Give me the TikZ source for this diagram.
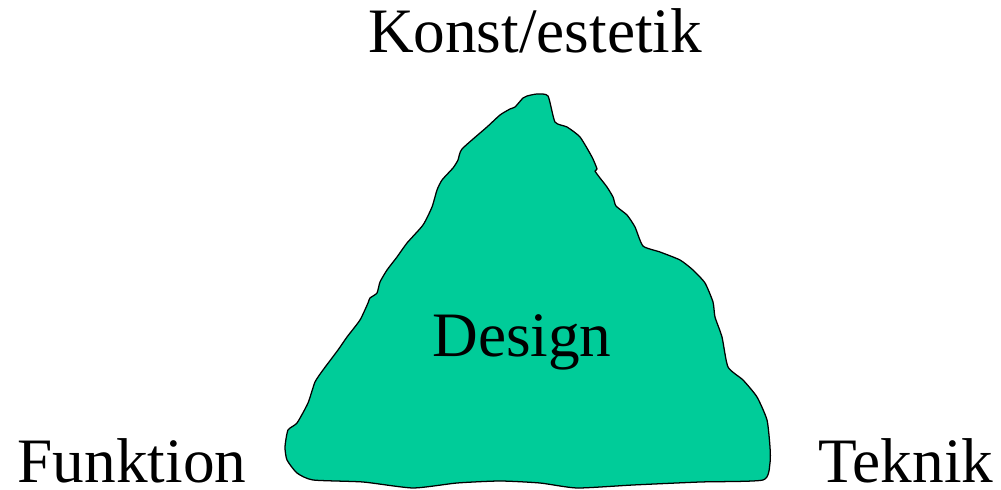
\documentclass[tikz,border=0pt]{standalone}
\usepackage{fontspec}
\setmainfont{Liberation Serif}
\usepackage{tikz}
\usetikzlibrary{positioning}
\definecolor{dsGreen}{RGB}{0,204,153}
\definecolor{dsLine}{RGB}{0,0,0}
\tikzset{
    base/.style={font=\fontsize{45}{54}\selectfont, align=center, inner sep=0pt},
    corner/.style={base, anchor=base, text=black},
    blob/.style={fill=dsGreen, draw=dsLine, line width=0.9pt, line join=round}
}

\begin{document}
\begin{tikzpicture}[x=0.025cm, y=-0.025cm]
  \useasboundingbox (0,0) rectangle (1001,490);

  % the rough mountain
  \draw[blob] plot[smooth cycle, tension=0.35] coordinates {
    (537,94) (548,96) (555,122) (567,127) (580,137) (592,157) (597,169)
    (595,171) (600,178) (607,187) (613,197) (616,206) (627,215) (635,227)
    (643,246) (660,252) (680,260) (693,270) (705,283) (713,302) (715,317)
    (722,337) (728,367) (743,380) (757,397) (767,420) (770,447) (770,463)
    (763,480) (700,482) (633,485) (577,488) (540,483) (500,481) (457,483)
    (413,488) (363,482) (313,480) (297,473) (287,460) (285,447) (288,430)
    (297,423) (308,403) (315,382) (323,370) (338,350) (347,337) (360,320)
    (368,303) (370,298) (377,293) (380,282) (387,270) (397,257) (407,243)
    (423,225) (432,207) (437,190) (442,180) (453,168) (458,160) (462,149)
    (487,127) (500,115) (510,109) (515,107) (523,98) (527,96)
  };

  % labels
  \node[corner] (design) at (522,357) {Design};
  \node[corner] (konst) at (535,53) {Konst/estetik};
  \node[corner] (funktion) at (132,483) {Funktion};
  \node[corner] (teknik) at (906,483) {Teknik};
\end{tikzpicture}
\end{document}
